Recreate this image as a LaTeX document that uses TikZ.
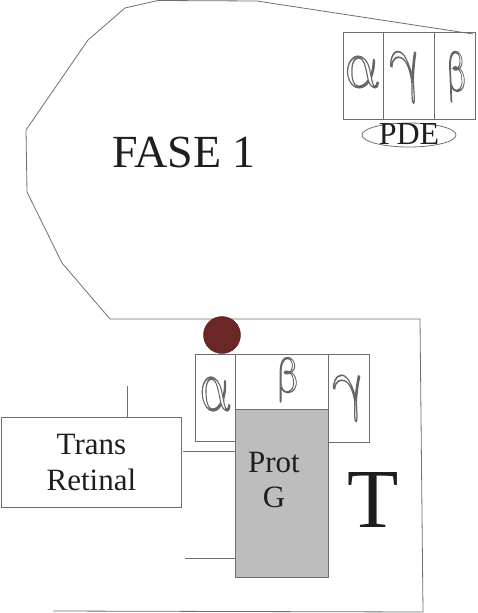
\documentclass[tikz,border=0pt]{standalone}
\usepackage{fontspec}
\setmainfont{Liberation Serif}
\usepackage{graphicx}
\usetikzlibrary{shapes.geometric}
\newcommand\hollowtxt[1]{\special{pdf:literal direct 1 Tr 0.22 w}#1\special{pdf:literal direct 0 Tr}}
\newcommand\gk[3]{\resizebox*{#2pt}{#3pt}{\hollowtxt{$#1$}}}
\definecolor{lin}{HTML}{6E6E6E}
\definecolor{txt}{HTML}{1E1E1E}
\definecolor{gfill}{HTML}{BDBDBD}
\definecolor{dot}{HTML}{6B2626}
\tikzset{
  box/.style={draw=lin, line width=0.8pt, inner sep=0, anchor=north west},
  greek/.style={inner sep=0, text=black!60, xslant=-0.2, transform shape},
  lbl/.style={inner sep=0, text=txt},
}
\begin{document}
\begin{tikzpicture}[x=1pt,y=-1pt]
\useasboundingbox (0,0) rectangle (478,613);
% outline
\draw[lin, line width=0.8pt] (473,34) -- (257,1) -- (158,0.5) -- (125,8) -- (88,40) -- (26,130) -- (27,192) -- (62,263) -- (110,319) -- (420,319) -- (423,612) -- (53,611);
\node[lbl, font=\fontsize{46}{46}\selectfont, anchor=base] (fase) at (184,167) {FASE 1};
% PDE boxes
\node[box, minimum width=40, minimum height=87] (pa) at (343,32) {};
\node[box, minimum width=51, minimum height=87] (pg) at (383,32) {};
\node[box, minimum width=41, minimum height=87] (pb) at (434,32) {};
\node[greek] (pal) at (362,72) {\gk{\alpha}{34}{30}};
\node[greek] (pgl) at (407,77) {\gk{\gamma}{30}{49}};
\node[greek] (pbl) at (456,77) {\gk{\beta}{22}{50}};
\node[ellipse, draw=lin, line width=0.8pt, minimum width=94, minimum height=24, inner sep=0, text=txt, font=\fontsize{32}{32}\selectfont] (pde) at (409,135) {\smash{\raisebox{-9.5pt}{PDE}}};
% lower group
\node[circle, fill=dot, draw=dot!80!black, minimum size=37, inner sep=0] (ball) at (222,335) {};
\node[box, minimum width=40, minimum height=87] (ga) at (195,354) {};
\node[box, minimum width=93, minimum height=55] (gb) at (235,354) {};
\node[box, minimum width=41, minimum height=88] (gg) at (328,354) {};
\node[box, fill=gfill, minimum width=93, minimum height=168] (prot) at (235,409) {};
\node[greek] (gal) at (215,394) {\gk{\alpha}{30}{32}};
\node[greek] (gbl) at (287,380) {\gk{\beta}{25}{44}};
\node[greek] (ggl) at (350,398) {\gk{\gamma}{31}{44}};
\node[lbl, align=center, font=\fontsize{31}{35}\selectfont] (protg) at (274,480) {Prot\\G};
\node[box, minimum width=180, minimum height=90, align=center, text=txt, font=\fontsize{31}{36}\selectfont] (tr) at (1,417) {Trans\\Retinal};
\node[lbl, font=\fontsize{84}{84}\selectfont, anchor=base] (T) at (373,527) {T};
% ticks
\coordinate (t1) at (127,386);
\coordinate (h1) at (183,451);
\coordinate (h2) at (185,558);
\draw[lin, line width=0.8pt] (t1) -- (t1 |- tr.north);
\draw[lin, line width=0.8pt] (h1) -- (h1 -| prot.west);
\draw[lin, line width=0.8pt] (h2) -- (h2 -| prot.west);
\end{tikzpicture}
\end{document}
